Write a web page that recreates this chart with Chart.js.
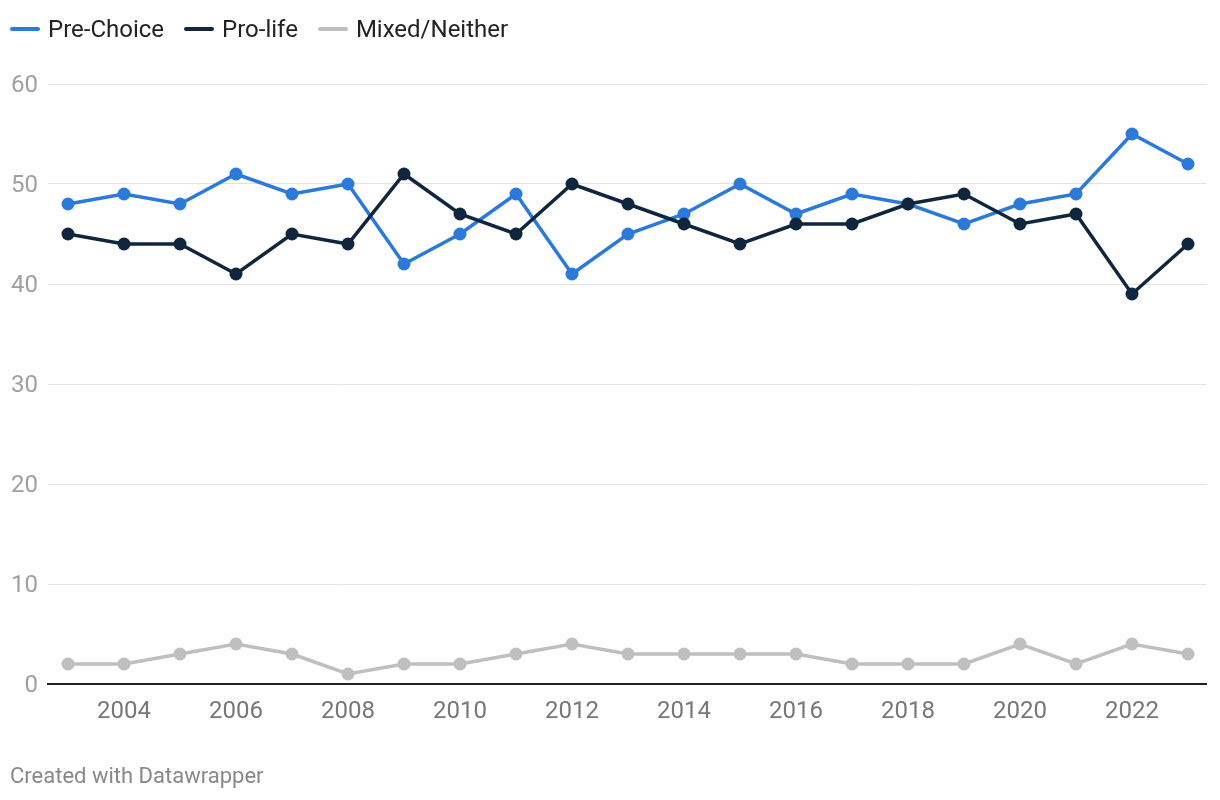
<!DOCTYPE html>
<html>
<head>
<meta charset="utf-8">
<script src="https://cdn.jsdelivr.net/npm/chart.js@4"></script>
<style>
  body { margin: 0; background: #fff; font-family: Roboto, sans-serif; }
  #wrap { position: relative; width: 1220px; height: 800px; }
  #legend { position: absolute; left: 10px; top: 15px; display: flex; font-size: 24px; color: #222; }
  #legend .item { display: flex; align-items: center; margin-right: 20px; }
  #legend .swatch { width: 30px; height: 4px; border-radius: 2px; margin-right: 8px; }
  #footer { position: absolute; left: 10px; top: 763px; font-size: 22px; color: #888; }
</style>
</head>
<body>
<div id="wrap">
  <canvas id="chart" width="1220" height="800"></canvas>
  <div id="legend"></div>
  <div id="footer">Created with Datawrapper</div>
</div>
<script>
// data
const years = [2003, 2004, 2005, 2006, 2007, 2008, 2009, 2010, 2011, 2012, 2013,
               2014, 2015, 2016, 2017, 2018, 2019, 2020, 2021, 2022, 2023];
const preChoice = [48, 49, 48, 51, 49, 50, 42, 45, 49, 41, 45, 47, 50, 47, 49, 48, 46, 48, 49, 55, 52];
const proLife   = [45, 44, 44, 41, 45, 44, 51, 47, 45, 50, 48, 46, 44, 46, 46, 48, 49, 46, 47, 39, 44];
const mixed     = [2, 2, 3, 4, 3, 1, 2, 2, 3, 4, 3, 3, 3, 3, 2, 2, 2, 4, 2, 4, 3];
const xTicks = [2004, 2006, 2008, 2010, 2012, 2014, 2016, 2018, 2020, 2022];
const yTicks = [0, 10, 20, 30, 40, 50, 60];

const series = [
    { label: 'Pre-Choice', values: preChoice, color: '#2b79db', order: 1 },
    { label: 'Pro-life', values: proLife, color: '#10263e', order: 0 },
    { label: 'Mixed/Neither', values: mixed, color: '#bfbfbf', order: 2 }
];

// legend (html)
const legendEl = document.getElementById('legend');
series.forEach(s => {
    const item = document.createElement('div');
    item.className = 'item';
    item.innerHTML = `<span class="swatch" style="background:${s.color}"></span><span>${s.label}</span>`;
    legendEl.appendChild(item);
});

const ctx = document.getElementById('chart').getContext('2d');
new Chart(ctx, {
    type: 'line',
    data: {
        datasets: series.map(s => ({
            label: s.label,
            data: years.map((y, i) => ({ x: y, y: s.values[i] })),
            borderColor: s.color,
            backgroundColor: s.color,
            borderWidth: 3.5,
            pointRadius: 6.5,
            pointBorderWidth: 0,
            pointBackgroundColor: s.color,
            tension: 0,
            order: s.order
        }))
    },
    options: {
        responsive: false,
        animation: false,
        layout: { padding: { left: 10, right: 14, top: 84, bottom: 66 } },
        plugins: {
            legend: { display: false },
            tooltip: { enabled: false }
        },
        scales: {
            x: {
                type: 'linear',
                min: 2003 - 20 / 56,
                max: 2023 + 18 / 56,
                afterBuildTicks: scale => { scale.ticks = xTicks.map(v => ({ value: v })); },
                afterFit: scale => { scale.height = 50; },
                grid: { display: false, drawTicks: false },
                border: { display: true, color: '#222', width: 2 },
                ticks: {
                    padding: 14,
                    color: '#777',
                    font: { family: 'Roboto', size: 24 },
                    callback: v => String(v)
                }
            },
            y: {
                min: 0,
                max: 60,
                afterBuildTicks: scale => { scale.ticks = yTicks.map(v => ({ value: v })); },
                afterFit: scale => { scale.width = 38; },
                grid: { color: '#e2e2e2', lineWidth: 1, drawTicks: false },
                border: { display: false },
                ticks: {
                    padding: 10,
                    labelOffset: 2,
                    color: '#a0a0a0',
                    font: { family: 'Roboto', size: 24 }
                }
            }
        }
    }
});
</script>
</body>
</html>
